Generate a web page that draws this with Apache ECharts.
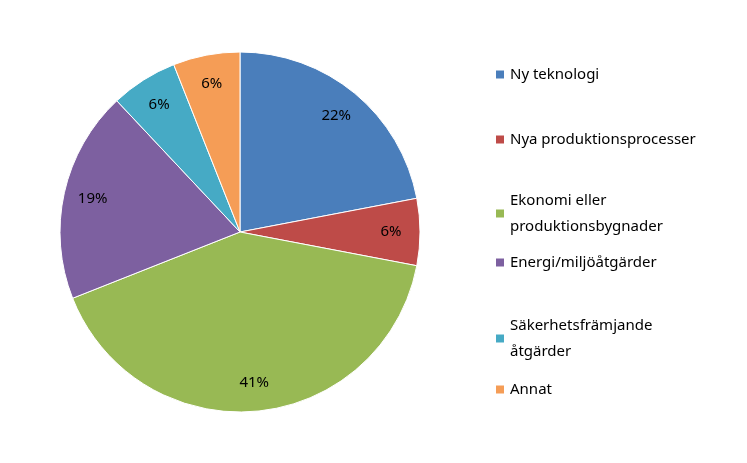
<!DOCTYPE html>
<html><head><meta charset="utf-8">
<script src="https://cdn.jsdelivr.net/npm/echarts@6/dist/echarts.min.js"></script>
<style>html,body{margin:0;background:#fff}#main{width:747px;height:463px}</style>
</head><body><div id="main"></div>
<script>
const categories = ['Ny teknologi', 'Nya produktionsprocesser', 'Ekonomi eller produktionsbygnader', 'Energi/miljöåtgärder', 'Säkerhetsfrämjande åtgärder', 'Annat'];
const legendLabels = ['Ny teknologi', 'Nya produktionsprocesser', 'Ekonomi eller\nproduktionsbygnader', 'Energi/miljöåtgärder', 'Säkerhetsfrämjande\nåtgärder', 'Annat'];
const values = [22, 6, 41, 19, 6, 6];
const colors = ['#4a7ebb', '#be4b48', '#98b954', '#7d60a0', '#46aac5', '#f59d56'];
const legendTops = [52, 117, 178, 240, 303, 367];

const data = categories.map((n, i) => ({ name: n, value: values[i] }));
const font = { fontFamily: 'Noto Sans', fontSize: 15, color: '#000' };

const chart = echarts.init(document.getElementById('main'));
chart.setOption({
  color: colors,
  animation: false,
  legend: categories.map((n, i) => ({
    data: [n], left: 489, top: legendTops[i], orient: 'vertical',
    icon: 'rect', itemWidth: 10, itemHeight: 10, itemGap: 0,
    formatter: () => legendLabels[i],
    textStyle: Object.assign({ lineHeight: 26, padding: [9, 0, 0, 0], verticalAlign: 'top' }, font)
  })),
  series: [
    {
      type: 'pie', center: [240, 232], radius: [0, 180], startAngle: 90, clockwise: true,
      data: data, label: { show: false }, itemStyle: { borderColor: '#fff', borderWidth: 1 }
    },
    {
      type: 'pie', center: [240, 232], radius: [116, 180], startAngle: 90, clockwise: true, silent: true,
      data: data, itemStyle: { color: 'rgba(0,0,0,0)' },
      label: Object.assign({ show: true, position: 'inside', formatter: '{c}%' }, font),
      labelLine: { show: false }, legendHoverLink: false
    }
  ]
});
</script></body></html>
